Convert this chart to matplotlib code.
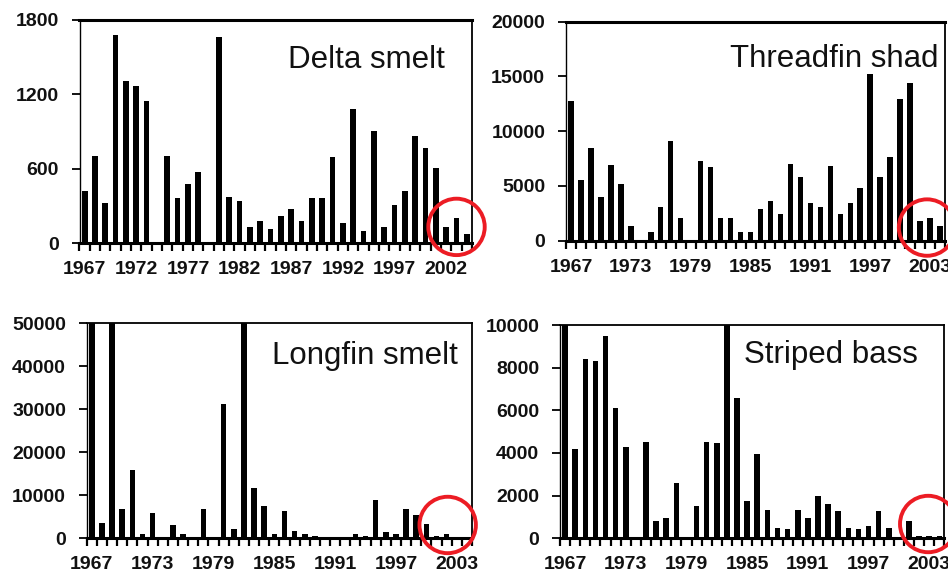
import matplotlib
matplotlib.use("Agg")
import matplotlib.pyplot as plt

plt.rcParams['font.family'] = ['Liberation Sans', 'DejaVu Sans']

# Fall midwater trawl abundance indices, one value per survey year
years = list(range(1967, 2005))

delta_smelt = [420, 700, 320, 1680, 1310, 1265, 1150, 0, 700, 360, 475, 575, 0,
               1660, 375, 335, 130, 175, 115, 215, 275, 175, 360, 360, 695, 160,
               1080, 100, 905, 130, 305, 420, 865, 765, 605, 130, 200, 75]

threadfin_shad = [12800, 5500, 8500, 4000, 6900, 5200, 1300, 0, 800, 3100, 9100,
                  2100, 0, 7300, 6700, 2100, 2100, 800, 800, 2900, 3600, 2450,
                  7000, 5800, 3400, 3100, 6800, 2400, 3400, 4800, 15200, 5800,
                  7600, 12900, 14400, 1800, 2100, 1300]

longfin_smelt = [81700, 3500, 59400, 6800, 15900, 900, 6000, 0, 3100, 900, 0,
                 6800, 0, 31300, 2200, 62900, 11800, 7600, 900, 6400, 1800, 900,
                 500, 0, 0, 0, 900, 500, 8800, 1350, 900, 6800, 5500, 3400, 450,
                 900, 0, 0]

striped_bass = [11000, 4200, 8400, 8300, 9500, 6100, 4300, 0, 4500, 800, 950,
                2600, 0, 1500, 4500, 4450, 10500, 6600, 1750, 3950, 1350, 500,
                450, 1350, 950, 2000, 1600, 1300, 500, 450, 600, 1300, 500, 0,
                800, 100, 100, 100]

W, H = 948, 577
fig = plt.figure(figsize=(W / 100, H / 100), dpi=100)


def px_rect(left, top, right, bottom):
    return [left / W, 1 - bottom / H, (right - left) / W, (bottom - top) / H]


def draw_panel(rect, values, name, ymax, ystep, label_step, name_pos, ring, top_lw):
    ax = fig.add_axes(rect)
    ax.bar(years, values, width=0.55, color='black', zorder=2)
    ax.set_xlim(years[0] - 0.5, years[-1] + 0.5)
    ax.set_ylim(0, ymax)

    # year labels without marks, marks sit between the bars
    ax.set_xticks(years[::label_step])
    ax.set_xticks([y - 0.5 for y in years] + [years[-1] + 0.5], minor=True)
    ax.tick_params(axis='x', which='major', length=0, pad=13)
    ax.tick_params(axis='x', which='minor', direction='out', length=5.5, width=1.6)
    ax.set_yticks(range(0, ymax + 1, ystep))
    ax.tick_params(axis='y', direction='out', length=6, width=1.3, pad=9)
    for lab in ax.get_xticklabels() + ax.get_yticklabels():
        lab.set_fontsize(14)
        lab.set_fontweight('bold')
        lab.set_color('#111111')

    ax.spines['bottom'].set_linewidth(2.2)
    ax.spines['top'].set_linewidth(top_lw)
    ax.spines['left'].set_linewidth(1.0)
    ax.spines['right'].set_linewidth(1.3)

    ax.text(name_pos[0], name_pos[1], name, transform=ax.transAxes,
            ha='right', va='baseline', fontsize=22.5, color='#111111')

    # red ring around the latest years
    ax.scatter([ring[0]], [ring[1]], s=1650, facecolors='none',
               edgecolors='#ec1c24', linewidths=2.8, clip_on=False, zorder=5)
    return ax


draw_panel(px_rect(79.5, 20, 472, 243), delta_smelt, "Delta smelt",
           1800, 600, 5, (0.931, 0.785), (2003.0, 130), 2.2)
draw_panel(px_rect(566, 21.7, 945, 240.7), threadfin_shad, "Threadfin shad",
           20000, 5000, 6, (0.982, 0.793), (2002.7, 1200), 2.2)
draw_panel(px_rect(86.8, 323.3, 472, 538.3), longfin_smelt, "Longfin smelt",
           50000, 10000, 6, (0.964, 0.811), (2002.1, 3100), 1.3)
draw_panel(px_rect(560, 325, 944.4, 538.3), striped_bass, "Striped bass",
           10000, 2000, 6, (0.931, 0.822), (2002.9, 670), 1.3)

plt.savefig("out.png", dpi=100)
